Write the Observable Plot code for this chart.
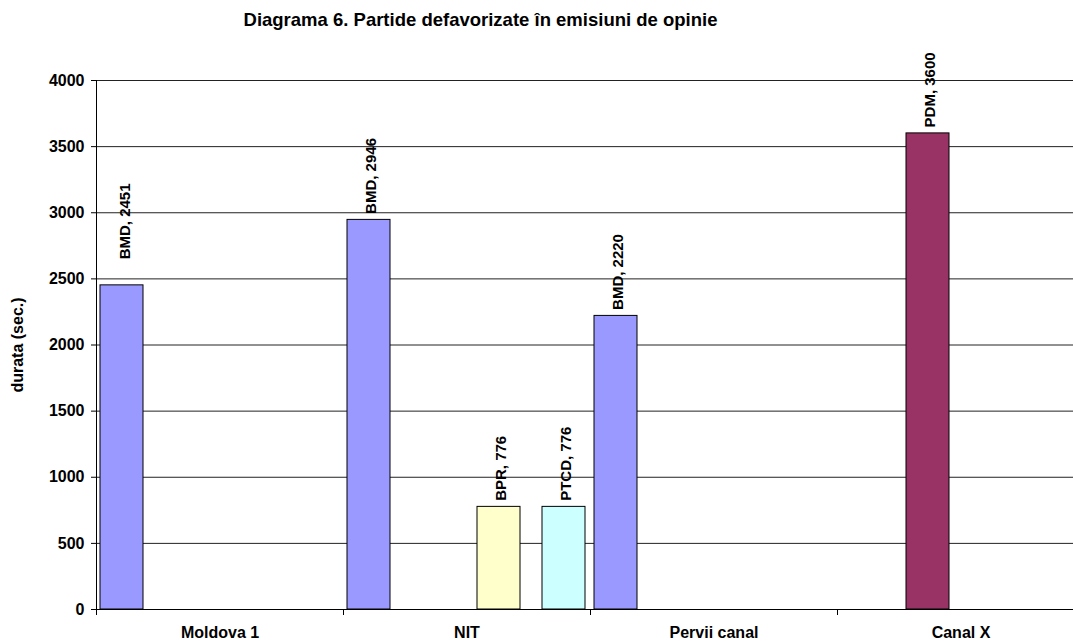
<!DOCTYPE html>
<html>
<head>
<meta charset="utf-8">
<script src="https://cdn.jsdelivr.net/npm/d3@7"></script>
<script src="https://cdn.jsdelivr.net/npm/@observablehq/plot@0.6"></script>
<style>
  html, body { margin: 0; padding: 0; background: #fff; overflow: hidden; }
  #wrap { position: relative; width: 1073px; height: 643px; }
  #title { position: absolute; left: 0; top: 11px; width: 961px; text-align: center;
    font-family: Arial, "Liberation Sans", sans-serif; font-weight: bold; font-size: 18.5px; line-height: 1; color: #000; }
  #chart svg { overflow: hidden; display: block; }
</style>
</head>
<body>
<div id="wrap">
  <div id="chart"></div>
  <div id="title">Diagrama 6. Partide defavorizate în emisiuni de opinie</div>
</div>
<script>
// Categories (TV channels) and series (parties)
const channels = ["Moldova 1", "NIT", "Pervii canal", "Canal X"];
const parties = ["BMD", "PDM", "BPR", "PTCD"];
const partyColors = ["#9999FF", "#993366", "#FFFFCC", "#CCFFFF"];

// Bars present in the chart
const barChannel = ["Moldova 1", "NIT", "NIT", "NIT", "Pervii canal", "Canal X"];
const barParty = ["BMD", "BMD", "BPR", "PTCD", "BMD", "PDM"];
const barValue = [2451, 2946, 776, 776, 2220, 3600];

// Y ticks
const yTicks = [0, 500, 1000, 1500, 2000, 2500, 3000, 3500, 4000];

const data = barValue.map((v, i) => ({channel: barChannel[i], party: barParty[i], value: v}));
const font = "Arial, 'Liberation Sans', sans-serif";

const plot = Plot.plot({
  width: 1073,
  height: 643,
  marginTop: 80,
  marginBottom: 34,
  marginLeft: 95,
  marginRight: -12,
  style: {fontFamily: font, fontWeight: "bold", color: "#000", background: "#fff"},
  fx: {domain: channels, padding: 0, label: null},
  x: {domain: parties, paddingInner: 0.337, paddingOuter: 0.0636, axis: null},
  y: {domain: [0, 4000], label: null},
  color: {domain: parties, range: partyColors},
  marks: [
    Plot.ruleY(yTicks, {stroke: "#222", strokeWidth: 1}),
    Plot.barY(data, {fx: "channel", x: "party", y: "value", fill: "party", stroke: "#000", strokeWidth: 1}),
    Plot.text(data.filter(d => d.channel !== "Moldova 1"), {
      fx: "channel", x: "party", y: "value",
      text: d => `${d.party}, ${d.value}`,
      rotate: -90, textAnchor: "start", dy: -6, dx: 2,
      fontSize: 15, fontWeight: "bold", fill: "#000"
    }),
    Plot.text(data.filter(d => d.channel === "Moldova 1"), {
      fx: "channel", x: "party", y: "value",
      text: d => `${d.party}, ${d.value}`,
      rotate: -90, textAnchor: "start", dy: -26, dx: 3,
      fontSize: 15, fontWeight: "bold", fill: "#000"
    }),
    Plot.axisY(yTicks, {
      anchor: "left", tickSize: 5, tickPadding: 7, fontSize: 16, fontWeight: "bold",
      tickFormat: d => String(d),
      label: "durata (sec.)", labelAnchor: "center", labelArrow: "none", labelOffset: 85
    }),
    Plot.axisFx({anchor: "bottom", tickSize: 0, tickPadding: 17, fontSize: 16, fontWeight: "bold", label: null})
  ]
});

document.getElementById("chart").appendChild(plot);

// Axis lines and category boundary ticks (Excel style), placed via the plot's own scales
const fx = plot.scale("fx");
const y = plot.scale("y");
const svg = d3.select(plot);
const y0 = y.apply(0), yTop = y.apply(4000);
const bounds = channels.map(c => fx.apply(c)).concat([fx.apply(channels[channels.length - 1]) + fx.bandwidth]);
const g = svg.append("g").attr("stroke", "#000").attr("stroke-width", 1);
g.append("line")
  .attr("x1", bounds[0] + 0.5).attr("x2", bounds[0] + 0.5)
  .attr("y1", yTop).attr("y2", y0 + 6);
g.selectAll("line.tick").data(bounds.slice(1)).join("line")
  .attr("class", "tick")
  .attr("x1", d => Math.round(d) + 0.5).attr("x2", d => Math.round(d) + 0.5)
  .attr("y1", y0).attr("y2", y0 + 6);
g.append("line")
  .attr("x1", bounds[0]).attr("x2", bounds[bounds.length - 1])
  .attr("y1", Math.round(y0) + 0.5).attr("y2", Math.round(y0) + 0.5);
</script>
</body>
</html>
